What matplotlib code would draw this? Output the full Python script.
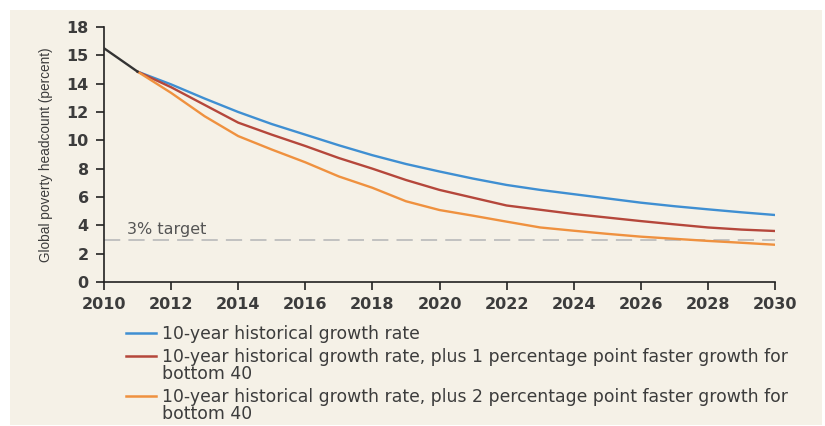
import matplotlib
matplotlib.use("Agg")
import matplotlib.pyplot as plt
from matplotlib.lines import Line2D
from matplotlib.patches import Rectangle

# data
hist_years = [2010, 2011]
hist_values = [16.5, 14.85]

years = list(range(2011, 2031))
base = [14.85, 13.95, 12.95, 12.0, 11.15, 10.4, 9.65, 8.95, 8.33, 7.8,
        7.3, 6.85, 6.5, 6.2, 5.9, 5.6, 5.35, 5.13, 4.92, 4.73]
plus1 = [14.85, 13.75, 12.5, 11.25, 10.4, 9.6, 8.75, 8.0, 7.2, 6.5,
         5.95, 5.4, 5.1, 4.8, 4.55, 4.3, 4.07, 3.85, 3.7, 3.6]
plus2 = [14.85, 13.35, 11.7, 10.3, 9.35, 8.45, 7.45, 6.65, 5.7, 5.08,
         4.68, 4.26, 3.85, 3.62, 3.4, 3.2, 3.05, 2.9, 2.77, 2.63]
target = 3

labels = ["10-year historical growth rate",
          "10-year historical growth rate, plus 1 percentage point faster growth for\nbottom 40",
          "10-year historical growth rate, plus 2 percentage point faster growth for\nbottom 40"]
colors = ["#3f8fd2", "#b5473b", "#ef913f"]

xticks = list(range(2010, 2031, 2))
yticks = [0, 2, 4, 6, 8, 10, 12, 14, 16, 18]
ytick_labels = ["0", "2", "4", "6", "8", "10", "12", "14", "15", "18"]

txt = "#3c3c3c"
bg = "#f5f1e7"

fig = plt.figure(figsize=(8.25, 4.26), dpi=100, facecolor="white")
fig.patches.append(Rectangle((10 / 825, 1 - 425 / 426), 812 / 825, 415 / 426,
                             transform=fig.transFigure, facecolor=bg,
                             edgecolor="none", zorder=-10))

ax = fig.add_axes([104 / 825, 1 - 282 / 426, 671 / 825, 255 / 426])
ax.patch.set_alpha(0)

ax.axhline(target, color="#bdbdbd", lw=1.3, dashes=(9, 4.5), zorder=1)
ax.text(2010.7, target + 0.2, "3% target", color="#555555", fontsize=11.5,
        va="bottom", ha="left")

ax.plot(hist_years, hist_values, color="#333333", lw=1.7, zorder=3)
for series, c in zip([base, plus1, plus2], colors):
    ax.plot(years, series, color=c, lw=1.7, zorder=2)

ax.set_xlim(2010, 2030)
ax.set_ylim(0, 18)
ax.set_xticks(xticks)
ax.set_xticklabels([str(y) for y in xticks])
ax.set_yticks(yticks)
ax.set_yticklabels(ytick_labels)

for s in ["top", "right"]:
    ax.spines[s].set_visible(False)
for s in ["left", "bottom"]:
    ax.spines[s].set_color("#222222")
    ax.spines[s].set_linewidth(1.2)
ax.tick_params(axis="both", direction="out", length=6, width=1.2,
               color="#222222", labelcolor=txt, labelsize=11.5, pad=5)
for lab in ax.get_xticklabels() + ax.get_yticklabels():
    lab.set_fontweight("bold")

ax.set_ylabel("Global poverty headcount (percent)",
              family=["Liberation Sans Narrow", "Liberation Sans"],
              fontsize=9.8, color=txt, labelpad=10)

# legend drawn by hand so the handle sits on the first text line
rows = [333, 356, 396]
for y, c, lab in zip(rows, colors, labels):
    yf = 1 - y / 426
    fig.lines.append(Line2D([126 / 825, 156 / 825], [yf, yf], color=c, lw=1.8,
                            transform=fig.transFigure))
    fig.text(162 / 825, 1 - (y - 8) / 426, lab, color=txt, fontsize=12.4,
             va="top", ha="left", linespacing=0.92)

fig.savefig("out.png", dpi=100, facecolor="white")
